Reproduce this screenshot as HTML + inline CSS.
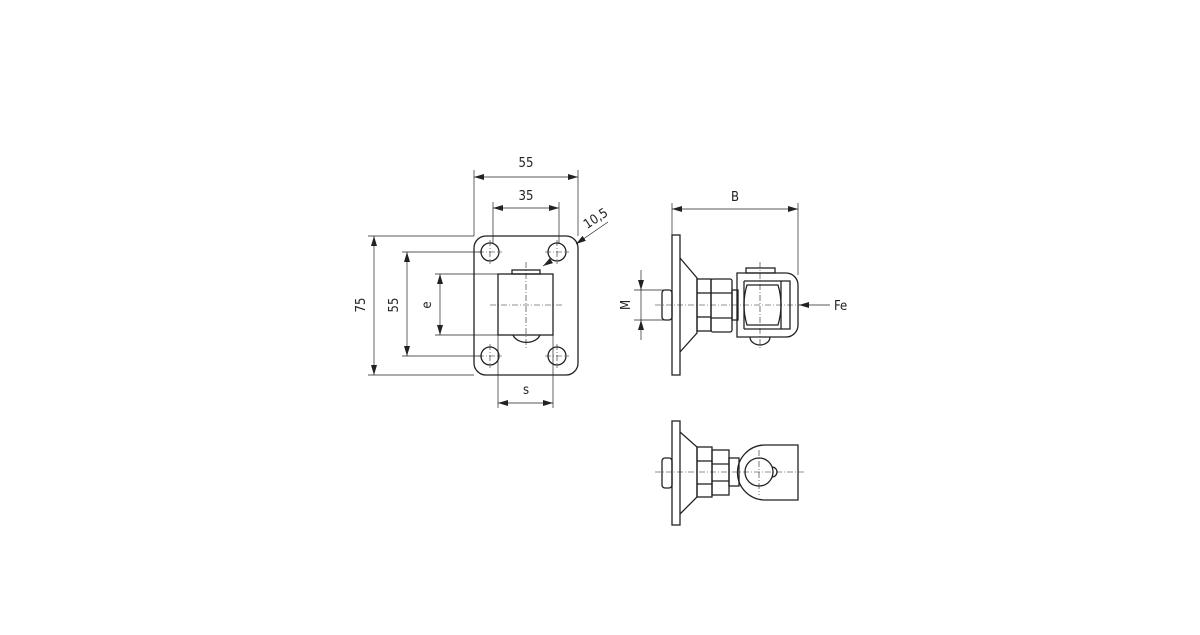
<!DOCTYPE html>
<html><head><meta charset="utf-8"><style>
html,body{margin:0;padding:0;background:#fff}
svg text{font-family:"DejaVu Sans Condensed","Liberation Sans",sans-serif;font-size:13px;fill:#222}
</style></head><body>
<svg width="1200" height="630" viewBox="0 0 1200 630" xmlns="http://www.w3.org/2000/svg">
<defs>
<marker id="a" viewBox="0 0 10 6" refX="10" refY="3" markerWidth="10" markerHeight="6" orient="auto-start-reverse" markerUnits="userSpaceOnUse"><path d="M0,0L10,3L0,6z" fill="#222"/></marker>
</defs>
<g fill="none" stroke="#222" stroke-width="1.3">
<rect x="474" y="236" width="104" height="139" rx="12"/>
<circle cx="490" cy="252" r="9"/><circle cx="557" cy="252" r="9"/>
<circle cx="490" cy="356" r="9"/><circle cx="557" cy="356" r="9"/>
<rect x="498" y="274" width="55" height="61"/>
<rect x="512" y="270" width="28" height="4"/>
<path d="M513,335 A14,10 0 0 0 540,335"/>
</g>
<g fill="none" stroke="#222" stroke-width="0.6" stroke-dasharray="6,2,1,2">
<line x1="490" y1="305" x2="562" y2="305"/>
<line x1="526" y1="262" x2="526" y2="348"/>
<line x1="478" y1="252" x2="502" y2="252"/><line x1="490" y1="240" x2="490" y2="264"/>
<line x1="545" y1="252" x2="569" y2="252"/><line x1="557" y1="240" x2="557" y2="264"/>
<line x1="478" y1="356" x2="502" y2="356"/><line x1="490" y1="344" x2="490" y2="368"/>
<line x1="545" y1="356" x2="569" y2="356"/><line x1="557" y1="344" x2="557" y2="368"/>
<line x1="655" y1="305" x2="805" y2="305"/>
<line x1="760" y1="262" x2="760" y2="350"/>
<line x1="655" y1="472" x2="805" y2="472"/>
<line x1="759" y1="450" x2="759" y2="495"/>
</g>
<g fill="none" stroke="#222" stroke-width="0.7">
<line x1="474" y1="170" x2="474" y2="236"/><line x1="578" y1="170" x2="578" y2="236"/>
<line x1="493" y1="202" x2="493" y2="244"/><line x1="559" y1="202" x2="559" y2="244"/>
<line x1="368" y1="236" x2="474" y2="236"/><line x1="368" y1="375" x2="474" y2="375"/>
<line x1="402" y1="252" x2="482" y2="252"/><line x1="402" y1="356" x2="482" y2="356"/>
<line x1="435" y1="274" x2="498" y2="274"/><line x1="435" y1="335" x2="498" y2="335"/>
<line x1="498" y1="335" x2="498" y2="408"/><line x1="553" y1="335" x2="553" y2="408"/>
<line x1="474" y1="177" x2="578" y2="177" marker-start="url(#a)" marker-end="url(#a)"/>
<line x1="493" y1="208" x2="559" y2="208" marker-start="url(#a)" marker-end="url(#a)"/>
<line x1="374" y1="236" x2="374" y2="375" marker-start="url(#a)" marker-end="url(#a)"/>
<line x1="407" y1="252" x2="407" y2="356" marker-start="url(#a)" marker-end="url(#a)"/>
<line x1="440" y1="274" x2="440" y2="335" marker-start="url(#a)" marker-end="url(#a)"/>
<line x1="498" y1="403" x2="553" y2="403" marker-start="url(#a)" marker-end="url(#a)"/>
<line x1="543" y1="266" x2="550" y2="261.5" marker-start="url(#a)"/>
<line x1="576" y1="244" x2="608" y2="222" marker-start="url(#a)"/>
<line x1="672" y1="203" x2="672" y2="236"/><line x1="798" y1="203" x2="798" y2="275"/>
<line x1="672" y1="209" x2="798" y2="209" marker-start="url(#a)" marker-end="url(#a)"/>
<line x1="634" y1="290" x2="664" y2="290"/><line x1="634" y1="320" x2="664" y2="320"/>
<line x1="641" y1="270" x2="641" y2="290" marker-end="url(#a)"/>
<line x1="641" y1="340" x2="641" y2="320" marker-end="url(#a)"/>
<line x1="641" y1="290" x2="641" y2="320"/>
<line x1="830" y1="305" x2="799" y2="305" marker-end="url(#a)"/>
</g>
<g fill="none" stroke="#222" stroke-width="1.3">
<rect x="672" y="235" width="8" height="140"/>
<path d="M680,258 L697,278 L697,333 L680,352"/>
<rect x="662" y="290" width="10" height="30" rx="3"/>
<rect x="697" y="279" width="14" height="52"/>
<line x1="697" y1="293" x2="711" y2="293"/><line x1="697" y1="317" x2="711" y2="317"/>
<rect x="711" y="279" width="21" height="53" rx="2"/>
<line x1="711" y1="293" x2="732" y2="293"/><line x1="711" y1="318" x2="732" y2="318"/>
<rect x="732" y="290" width="6" height="30"/>
<path d="M737,273 L786,273 A12,12 0 0 1 798,285 L798,325 A12,12 0 0 1 786,337 L737,337 Z"/>
<path d="M744,281 L790,281 L790,329 L744,329"/>
<path d="M747,285 L778,285 Q784,305 778,325 L747,325 Q741,305 747,285 Z"/>
<line x1="744" y1="281" x2="744" y2="329"/><line x1="781" y1="281" x2="781" y2="329"/>
<rect x="746" y="268" width="29" height="5"/>
<path d="M750,337 A10,8 0 0 0 770,337"/>
<rect x="672" y="421" width="8" height="104"/>
<path d="M680,432 L697,447 L697,497 L680,514"/>
<rect x="662" y="458" width="10" height="30" rx="3"/>
<rect x="697" y="447" width="15" height="50"/>
<line x1="697" y1="461" x2="712" y2="461"/><line x1="697" y1="484" x2="712" y2="484"/>
<rect x="712" y="450" width="17" height="45"/>
<line x1="712" y1="464" x2="729" y2="464"/><line x1="712" y1="481" x2="729" y2="481"/>
<rect x="729" y="458" width="10" height="28"/>
<path d="M798,445 L765,445 A27,27 0 0 0 765,500 L798,500 Z"/>
<circle cx="759" cy="472" r="14"/>
<path d="M772,467 A5,5 0 0 1 772,477"/>
</g>
<text x="526" y="167" text-anchor="middle">55</text>
<text x="526" y="200" text-anchor="middle">35</text>
<text transform="translate(365,305) rotate(-90)" text-anchor="middle">75</text>
<text transform="translate(398,305) rotate(-90)" text-anchor="middle">55</text>
<text transform="translate(431,305) rotate(-90)" text-anchor="middle">e</text>
<text x="526" y="394" text-anchor="middle">s</text>
<text transform="translate(598,222) rotate(-33)" text-anchor="middle">10,5</text>
<text x="735" y="201" text-anchor="middle">B</text>
<text transform="translate(630,305) rotate(-90)" text-anchor="middle">M</text>
<text x="834" y="310">Fe</text>
</svg>
</body></html>
